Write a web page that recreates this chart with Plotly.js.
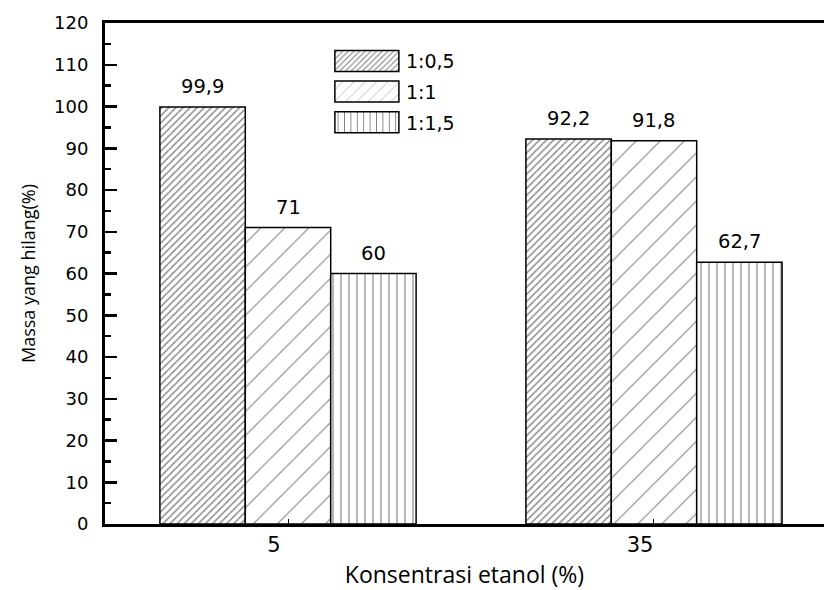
<!DOCTYPE html>
<html>
<head>
<meta charset="utf-8">
<script src="https://cdn.plot.ly/plotly-3.0.1.min.js"></script>
<style>html,body{margin:0;padding:0;background:#fff;}</style>
</head>
<body>
<div id="chart" style="width:824px;height:590px;"></div>
<script>
const categories = ['5', '35'];
const seriesNames = ['1:0,5', '1:1', '1:1,5'];
const series1 = [99.9, 92.2];
const series2 = [71, 91.8];
const series3 = [60, 62.7];
const yTickVals = [0, 10, 20, 30, 40, 50, 60, 70, 80, 90, 100, 110, 120];

const allSeries = [series1, series2, series3];
const patterns = [
  {shape: '/', size: 5, solidity: 0.28},
  {shape: '/', size: 17, solidity: 0.06},
  {shape: '|', size: 8, solidity: 0.14}
];

const traces = allSeries.map((vals, i) => ({
  type: 'bar',
  name: seriesNames[i],
  legendgroup: 'g' + i,
  x: categories,
  y: vals,
  marker: {
    color: '#ffffff',
    line: {color: '#000000', width: 1.5},
    pattern: Object.assign({fgcolor: '#000000', bgcolor: '#ffffff', fillmode: 'overlay'}, patterns[i])
  },
  hoverinfo: 'skip'
}));

const groupWidth = 0.7;
const barW = groupWidth / allSeries.length;
const annotations = [];
allSeries.forEach((vals, i) => {
  vals.forEach((v, j) => {
    annotations.push({
      x: j + (i - 1) * barW,
      y: v,
      xref: 'x', yref: 'y',
      text: String(v).replace('.', ','),
      showarrow: false,
      yanchor: 'bottom',
      yshift: 7,
      font: {family: 'DejaVu Sans', size: 19.5, color: '#000'}
    });
  });
});

const layout = {
  width: 824, height: 590,
  margin: {l: 105, r: 0, t: 23, b: 66},
  paper_bgcolor: '#fff', plot_bgcolor: '#fff',
  barmode: 'group', bargap: 0.3, bargroupgap: 0,
  showlegend: true,
  legend: {
    x: 0.31, y: 0.962, xanchor: 'left', yanchor: 'top',
    bgcolor: 'rgba(0,0,0,0)',
    font: {family: 'DejaVu Sans', size: 19, color: '#000'},
    itemwidth: 68, tracegroupgap: 3
  },
  xaxis: {
    type: 'category',
    range: [-0.5, 1.4645],
    showline: true, linecolor: '#000', linewidth: 3, mirror: true,
    ticks: 'inside', ticklen: 5, tickwidth: 1, tickcolor: '#000',
    ticklabelshift: -14,
    showgrid: false, zeroline: false,
    tickfont: {family: 'DejaVu Sans', size: 21, color: '#000'},
    title: {text: 'Konsentrasi etanol (%)', font: {family: 'Open Sans', size: 23, color: '#000'}, standoff: 13}
  },
  yaxis: {
    range: [0, 120],
    tickvals: yTickVals,
    showline: true, linecolor: '#000', linewidth: 3, mirror: false,
    ticks: 'inside', ticklen: 12, tickwidth: 2.5, tickcolor: '#000',
    minor: {dtick: 5, ticks: 'inside', ticklen: 6, tickwidth: 2.5, tickcolor: '#000', showgrid: false},
    showgrid: false, zeroline: false,
    ticklabelstandoff: 10,
    tickfont: {family: 'DejaVu Sans', size: 18, color: '#000'},
    title: {text: 'Massa yang hilang(%)', font: {family: 'Open Sans', size: 18, color: '#000'}, standoff: 14}
  },
  annotations: annotations
};

function widenSwatches() {
  document.querySelectorAll('.legend .legendpoints path').forEach(function (p) {
    p.setAttribute('d', 'M32,10.5H-32V-10.5H32Z');
  });
}

Plotly.newPlot('chart', traces, layout, {displayModeBar: false, staticPlot: true}).then(function () {
  widenSwatches();
  setTimeout(widenSwatches, 50);
});
</script>
</body>
</html>
